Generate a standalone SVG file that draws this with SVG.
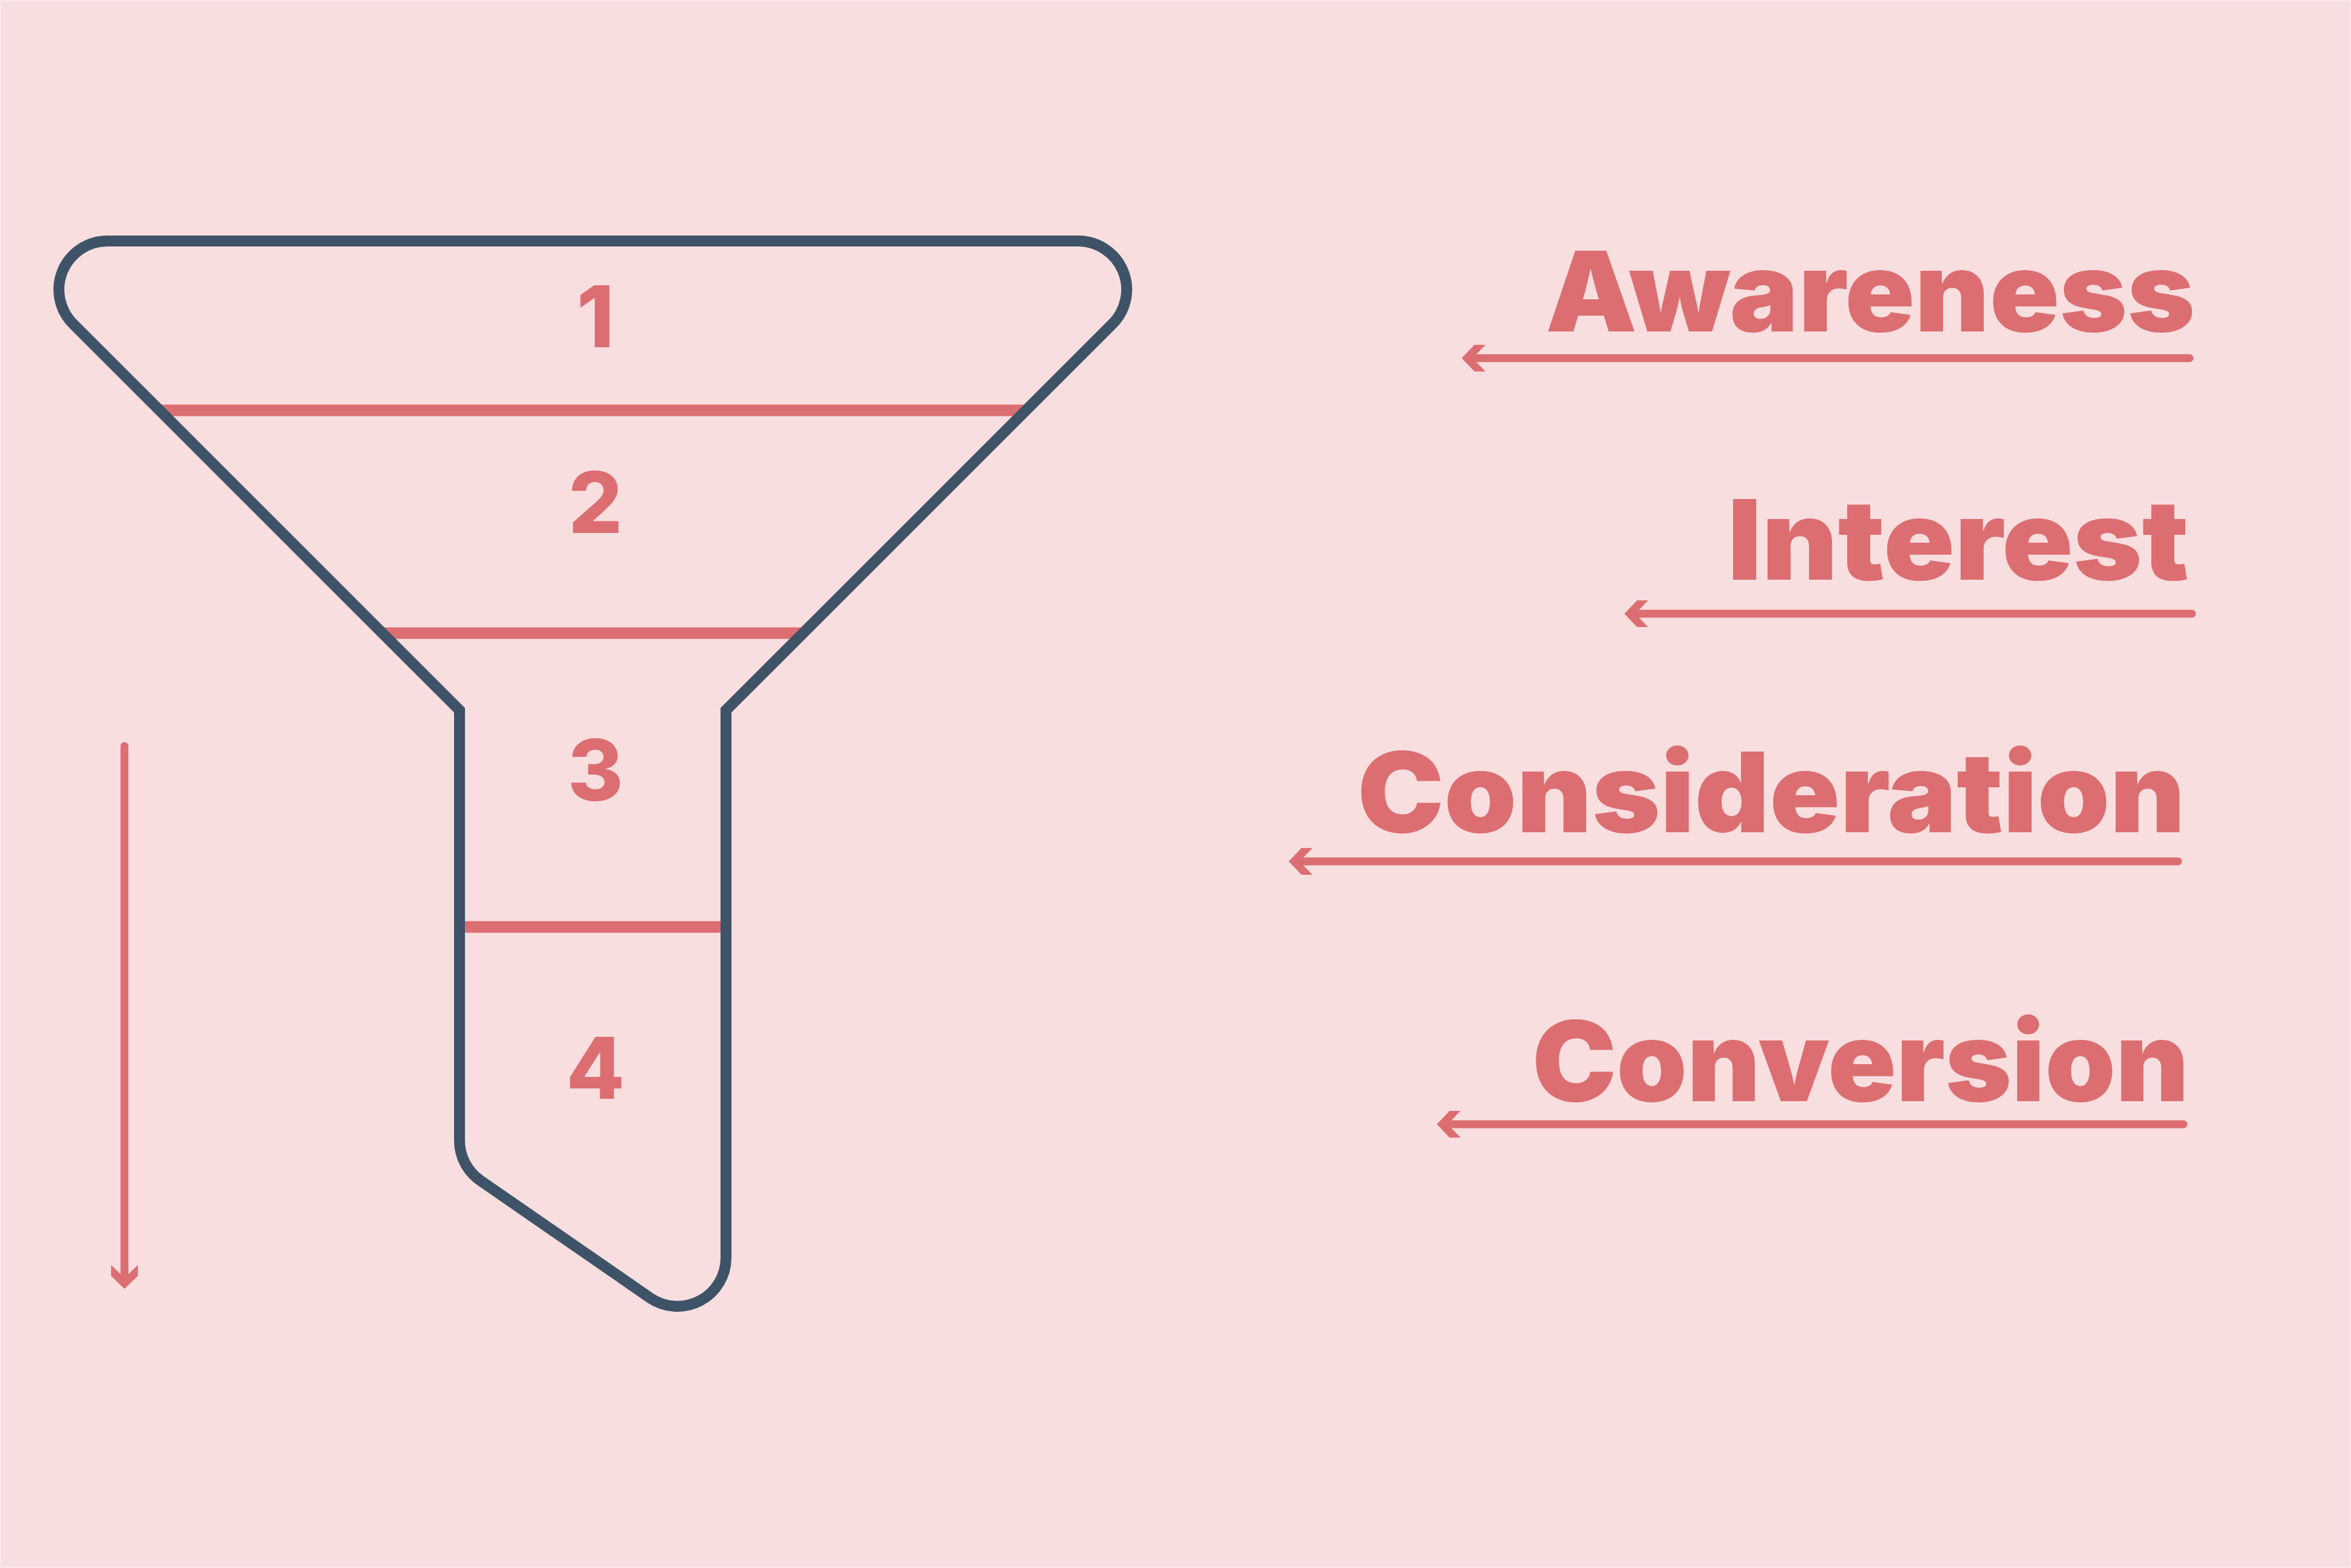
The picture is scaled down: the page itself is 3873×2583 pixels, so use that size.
<svg xmlns="http://www.w3.org/2000/svg" width="3873" height="2583" viewBox="0 0 3873 2583">
  <style>
    .bg { fill: #f8dedf; }
    .frame { fill: none; stroke: #fbeaea; stroke-width: 2; }
    .funnel { fill: none; stroke: #3e5367; stroke-width: 18; stroke-linejoin: miter; }
    .divider { stroke: #dc6e71; stroke-width: 19; stroke-linecap: butt; }
    .arrow { stroke: #dc6e71; stroke-width: 13; stroke-linecap: round; fill: none; }
    .num { fill: #dc6e71; font-family: Inter, "Liberation Sans", sans-serif; font-weight: 800; font-size: 140px; text-anchor: middle; }
    .label { fill: #dc6e71; font-family: Inter, "Liberation Sans", sans-serif; font-weight: 900; font-size: 183px; }
  </style>
  <defs>
    <marker id="chev" markerUnits="userSpaceOnUse" markerWidth="60" markerHeight="60" refX="20" refY="0" orient="auto" overflow="visible">
      <path d="M40,0 L19,-22 L1,-22 L22,0 L1,22 L19,22 Z" fill="#dc6e71"/>
    </marker>
  </defs>

  <rect class="bg" x="0" y="0" width="3873" height="2583"/>
  <rect class="frame" x="1" y="1" width="3871" height="2581"/>

  <g id="dividers">
    <line class="divider" x1="263" y1="676" x2="1690" y2="676"/>
    <line class="divider" x1="630" y1="1043" x2="1323" y2="1043"/>
    <line class="divider" x1="757" y1="1527" x2="1196" y2="1527"/>
  </g>

  <g id="funnel">
    <path class="funnel" d="M177,397 L1776,397 A80,80 0 0 1 1832.6,533.6 L1196,1170 L1196,2072 A80,80 0 0 1 1070.6,2137.8 L791.6,1944.9 A80,80 0 0 1 757,1879 L757,1170 L120.5,533.6 A80,80 0 0 1 177,397 Z"/>
  </g>

  <g id="stage-numbers">
    <g id="num-1"><text class="num" x="981" y="572">1</text></g>
    <g id="num-2"><text class="num" x="981" y="878">2</text></g>
    <g id="num-3"><text class="num" x="981" y="1319">3</text></g>
    <g id="num-4"><text class="num" x="981" y="1810">4</text></g>
  </g>

  <g id="label-awareness">
    <text class="label" x="2546" y="546" textLength="1070" lengthAdjust="spacingAndGlyphs">Awareness</text>
  </g>
  <g id="label-interest">
    <text class="label" x="2846" y="955" textLength="760" lengthAdjust="spacingAndGlyphs">Interest</text>
  </g>
  <g id="label-consideration">
    <text class="label" x="2236" y="1371" textLength="1364" lengthAdjust="spacingAndGlyphs">Consideration</text>
  </g>
  <g id="label-conversion">
    <text class="label" x="2524" y="1814" textLength="1082" lengthAdjust="spacingAndGlyphs">Conversion</text>
  </g>

  <g id="connectors">
    <line class="arrow" x1="3607" y1="590" x2="2428" y2="590" marker-end="url(#chev)"/>
    <line class="arrow" x1="3611" y1="1011" x2="2696" y2="1011" marker-end="url(#chev)"/>
    <line class="arrow" x1="3588" y1="1419" x2="2143" y2="1419" marker-end="url(#chev)"/>
    <line class="arrow" x1="3597" y1="1852" x2="2387" y2="1852" marker-end="url(#chev)"/>
    <line class="arrow" x1="205" y1="1229" x2="205" y2="2103" marker-end="url(#chev)"/>
  </g>
</svg>
